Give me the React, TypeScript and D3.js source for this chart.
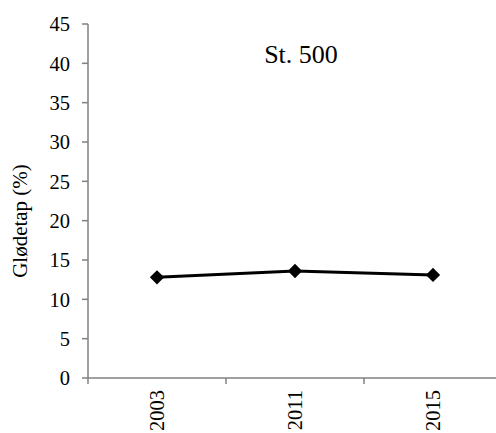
import React from "react";
import * as d3 from "d3";

const categories = ["2003", "2011", "2015"];
const values = [12.8, 13.6, 13.1];
const yTicks = [0, 5, 10, 15, 20, 25, 30, 35, 40, 45];
const title = "St. 500";
const yTitle = "Glødetap (%)";

export default function App() {
  const W = 496, H = 433;
  const left = 88, right = 502, top = 24, bottom = 378;
  const x = d3.scaleBand().domain(categories).range([left, right]);
  const y = d3.scaleLinear().domain([0, 45]).range([bottom, top]);
  const line = d3.line<number>()
    .x((_, i) => (x(categories[i]) as number) + x.bandwidth() / 2)
    .y((d) => y(d));
  const ts: React.CSSProperties = { fontFamily: '"Liberation Serif", "Times New Roman", serif' };
  const axisColor = "#808080";
  const edges = categories.map((c) => x(c) as number);
  const diamond = d3.symbol().type(d3.symbolDiamond2).size(130)();
  return (
    <svg width={W} height={H} style={{ position: "absolute", left: 0, top: 0 }}>
      <rect width={W} height={H} fill="#fff" />
      <line x1={left} x2={left} y1={top} y2={bottom} stroke={axisColor} strokeWidth={1.5} />
      {yTicks.map((t) => (
        <g key={t}>
          <line x1={left - 6} x2={left} y1={y(t)} y2={y(t)} stroke={axisColor} strokeWidth={1.5} />
          <text x={left - 18} y={y(t)} dy="0.35em" textAnchor="end" fontSize={20.5} fill="#000" style={ts}>{t}</text>
        </g>
      ))}
      <line x1={left} x2={right} y1={bottom} y2={bottom} stroke={axisColor} strokeWidth={1.5} />
      {edges.map((e, i) => (
        <line key={i} x1={e} x2={e} y1={bottom} y2={bottom + 6} stroke={axisColor} strokeWidth={1.5} />
      ))}
      {categories.map((c) => {
        const cx = (x(c) as number) + x.bandwidth() / 2;
        return (
          <text key={c} transform={`translate(${cx},${bottom + 12}) rotate(-90)`} textAnchor="end" dy="0.35em" fontSize={20.5} fill="#000" style={ts}>{c}</text>
        );
      })}
      <path d={line(values) || ""} fill="none" stroke="#000" strokeWidth={3} />
      {values.map((v, i) => (
        <path key={i} d={diamond || ""} transform={`translate(${(x(categories[i]) as number) + x.bandwidth() / 2},${y(v)})`} fill="#000" />
      ))}
      <text x={301} y={63} textAnchor="middle" fontSize={26} fill="#000" style={ts}>{title}</text>
      <text transform={`translate(27,221) rotate(-90)`} textAnchor="middle" fontSize={21} fill="#000" style={ts}>{yTitle}</text>
    </svg>
  );
}
